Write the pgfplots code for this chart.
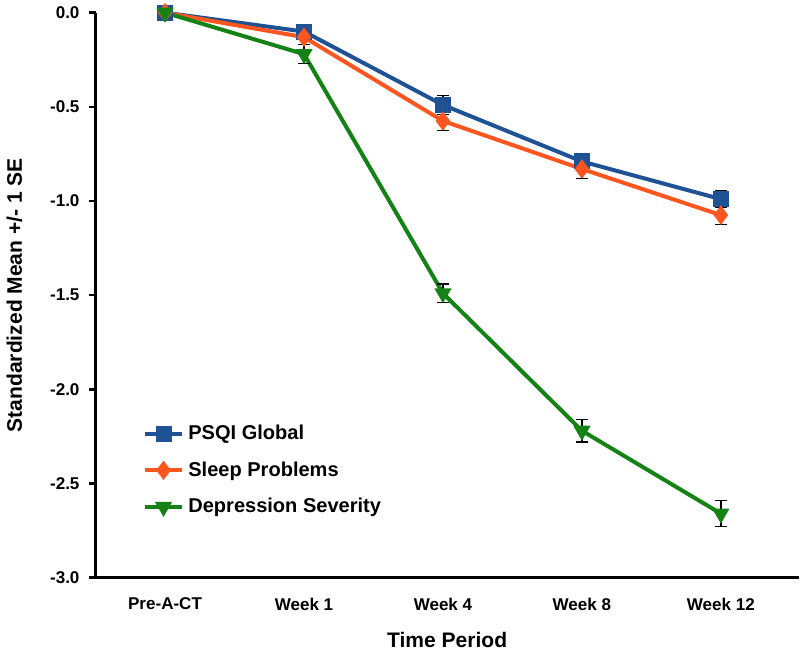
\documentclass[border=0pt]{standalone}
\usepackage{pgfplots}
\pgfplotsset{compat=1.18}
\usepackage{fontspec}
\setmainfont{Liberation Sans}
\definecolor{cblue}{RGB}{31,82,148}
\definecolor{corange}{RGB}{255,85,30}
\definecolor{cgreen}{RGB}{20,130,20}
\begin{document}
\begin{tikzpicture}
\begin{axis}[
  scale only axis,
  width=351pt, height=282pt,
  xmin=-0.5, xmax=4.56,
  ymin=-3, ymax=0,
  axis lines=left,
  axis line style={line width=1.3pt,-},
  xtick={0,1,2,3,4},
  xticklabels={Pre-A-CT,Week 1,Week 4,Week 8,Week 12},
  x tick style={draw=none},
  ytick={-3,-2.5,-2,-1.5,-1,-0.5,0},
  y tick style={line width=1.3pt,black},
  tick align=outside,
  major tick length=3.5pt,
  yticklabel style={xshift=-1pt,/pgf/number format/.cd,fixed,fixed zerofill,precision=1},
  /pgf/number format/assume math mode=true,
  tick label style={font=\fontsize{8.5}{10}\selectfont\bfseries},
  xticklabel style={yshift=-3pt},
  xlabel={Time Period},
  ylabel={Standardized Mean +/- 1 SE},
  label style={font=\fontsize{10.5}{12}\selectfont\bfseries},
  xlabel style={yshift=-4pt},
  ylabel style={yshift=7pt},
  clip=false,
  legend style={at={(0.058,0.285)},anchor=north west,draw=none,fill=none,
    font=\fontsize{10}{12}\selectfont\bfseries,row sep=5.5pt},
  legend cell align=left,
  legend image code/.code={
    \draw[#1,mark repeat=2,mark phase=2] plot coordinates {(0cm,0cm) (0.33cm,0cm) (0.66cm,0cm)};},
  error bars/error bar style={black,line width=0.7pt},
  error bars/error mark options={rotate=90,mark size=3pt,black,line width=0.7pt},
]
\addplot[cblue,line width=2pt,mark=square*,mark size=3pt,mark options={solid},
  error bars/.cd,y dir=both,y explicit]
 coordinates {(0,0) +- (0,0.0) (1,-0.10) +- (0,0.03) (2,-0.49) +- (0,0.05) (3,-0.79) +- (0,0.04) (4,-0.99) +- (0,0.045)};
\addlegendentry{PSQI Global}
\addplot[corange,line width=2pt,mark=diamond*,mark size=3.2pt,
  error bars/.cd,y dir=both,y explicit]
 coordinates {(0,0) +- (0,0.0) (1,-0.13) +- (0,0.04) (2,-0.575) +- (0,0.05) (3,-0.83) +- (0,0.05) (4,-1.075) +- (0,0.05)};
\addlegendentry{Sleep Problems}
\addplot[cgreen,line width=2pt,mark=triangle*,mark size=3pt,mark options={rotate=180},
  error bars/.cd,y dir=both,y explicit]
 coordinates {(0,0) +- (0,0.0) (1,-0.22) +- (0,0.05) (2,-1.49) +- (0,0.05) (3,-2.22) +- (0,0.06) (4,-2.66) +- (0,0.07)};
\addlegendentry{Depression Severity}
\end{axis}
\end{tikzpicture}
\end{document}
